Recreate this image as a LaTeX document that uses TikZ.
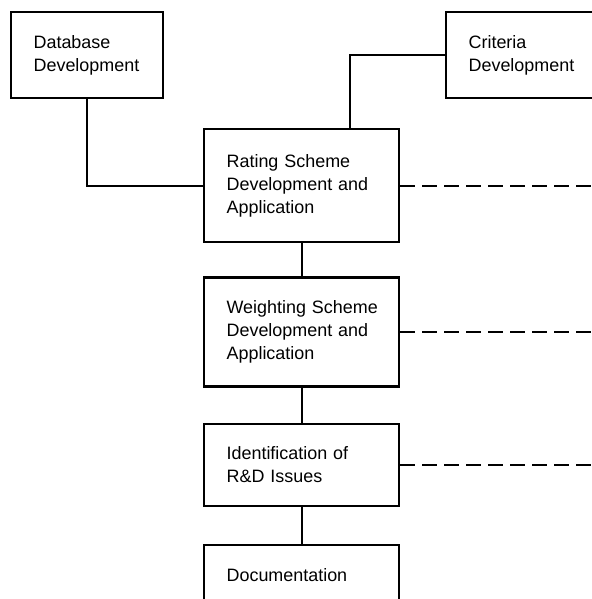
\documentclass[tikz,border=0pt]{standalone}
\usepackage{fontspec}
\setsansfont{Liberation Sans}
\usetikzlibrary{positioning}

\begin{document}
\begin{tikzpicture}[font=\sffamily\fontsize{10.2}{13}\selectfont,
  stagebox/.style={draw,line width=1.3pt,align=left,anchor=north west,inner xsep=0.45cm,text width=3cm},
  link/.style={line width=1.3pt},
  dashlink/.style={line width=1.3pt,dash pattern=on 0.3cm off 0.14cm}]
  \useasboundingbox (0,0) rectangle (11.84,-11.98);
  \clip (0,0) rectangle (11.84,-11.98);
  \coordinate (edge) at (11.84,0);

  \node[stagebox,text width=2.14cm,minimum height=1.72cm] (database) at (0.2,-0.22) {Database\\Development};
  \node[stagebox,minimum height=1.72cm] (criteria) at (8.9,-0.22) {Criteria\\Development};
  \node[stagebox,minimum height=2.26cm] (rating) at (4.06,-2.56) {Rating Scheme\\Development and\\Application};
  \node[stagebox,minimum height=2.18cm,below=0.66cm of rating] (weighting) {Weighting~Scheme\\Development and\\Application};
  \node[stagebox,minimum height=1.64cm,below=0.7cm of weighting] (issues) {Identification of\\R\&D Issues};
  \node[stagebox,minimum height=1.2cm,below=0.74cm of issues] (documentation) {Documentation};

  \draw[link] (database.south) |- (rating.west);
  \draw[link] (criteria.west) -| ([xshift=0.97cm]rating.north);
  \draw[link] (rating.south) -- (weighting.north);
  \draw[link] (weighting.south) -- (issues.north);
  \draw[link] (issues.south) -- (documentation.north);

  \draw[dashlink] (rating.east) -- (rating.east -| edge);
  \draw[dashlink] (weighting.east) -- (weighting.east -| edge);
  \draw[dashlink] (issues.east) -- (issues.east -| edge);
\end{tikzpicture}
\end{document}
